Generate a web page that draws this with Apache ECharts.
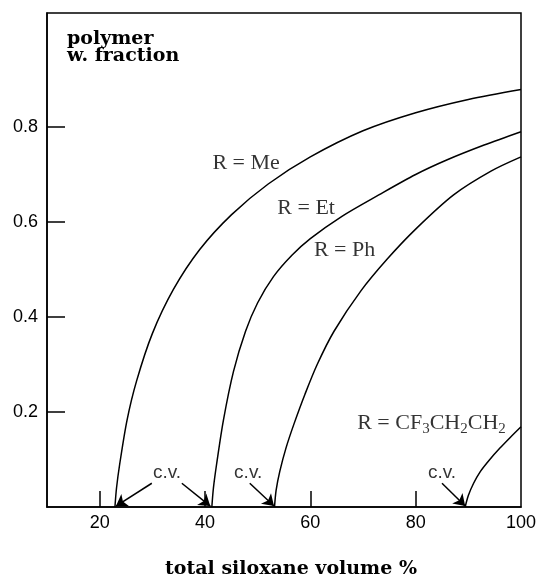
<!DOCTYPE html>
<html><head><meta charset="utf-8">
<script src="https://cdn.jsdelivr.net/npm/echarts@6/dist/echarts.min.js"></script>
<style>html,body{margin:0;padding:0;background:#fff}#c{width:542px;height:582px}</style>
</head><body><div id="c"></div>
<script>
// Curve data: total siloxane volume % (x) vs polymer weight fraction (y)
const meX = [22.9, 23.2, 23.8, 25.2, 27.0, 30.0, 34.0, 39.0, 45.0, 52.0, 60.0, 70.0, 80.0, 90.0, 100];
const meY = [0, 0.04, 0.09, 0.183, 0.265, 0.365, 0.458, 0.542, 0.615, 0.68, 0.737, 0.792, 0.830, 0.858, 0.879];
const etX = [41.3, 41.6, 42.2, 43.5, 45.4, 47.7, 50.0, 53.0, 56.5, 60.0, 66.0, 73.0, 80.0, 86.0, 93.0, 100];
const etY = [0, 0.04, 0.09, 0.183, 0.285, 0.37, 0.43, 0.485, 0.53, 0.565, 0.612, 0.657, 0.70, 0.731, 0.762, 0.79];
const phX = [53.2, 53.5, 54.2, 55.4, 56.9, 59.0, 61.3, 64.5, 69.6, 74.6, 80.0, 87.2, 94.3, 100];
const phY = [0, 0.035, 0.075, 0.125, 0.175, 0.238, 0.300, 0.370, 0.455, 0.522, 0.585, 0.657, 0.707, 0.737];
const cfX = [89.4, 90.0, 91.0, 92.3, 94.0, 96.0, 98.0, 100];
const cfY = [0, 0.024, 0.05, 0.075, 0.099, 0.124, 0.147, 0.169];

const xTickValues = [20, 40, 60, 80];
const xLabelValues = [20, 40, 60, 80, 100];
const yTickValues = [0.2, 0.4, 0.6, 0.8];

// Annotations (data coordinates)
const curveLabelText = ['R = Me', 'R = Et', 'R = Ph', '{m|R = CF}{s|3}{m|CH}{s|2}{m|CH}{s|2}'];
const curveLabelX = [47.8, 59.2, 66.5, 83.0];
const curveLabelY = [0.724, 0.629, 0.541, 0.177];
const cvX = [32.8, 48.2, 85.0];
const cvY = [0.072, 0.072, 0.072];
const arrowFrom = [[29.9, 0.05], [35.6, 0.05], [48.5, 0.05], [85.0, 0.05]];
const arrowTo = [[23.1, 0.002], [41.0, 0.002], [53.1, 0.002], [89.4, 0.002]];

const zip = (xs, ys) => xs.map((x, i) => [x, ys[i]]);
const curveStyle = {color: '#000', width: 1.5};
function curve(name, xs, ys) {
  return {name, type: 'line', data: zip(xs, ys), smooth: 0.3,
    symbol: 'none', lineStyle: curveStyle, silent: true, z: 3};
}

const chart = echarts.init(document.getElementById('c'), null, {renderer: 'canvas'});
chart.setOption({
  animation: false,
  backgroundColor: '#fff',
  grid: {left: 47, right: 21, top: 13, bottom: 75, show: true, borderColor: '#000', borderWidth: 1.5,
    containLabel: false, outerBoundsMode: 'none'},
  xAxis: {
    type: 'value', min: 10, max: 100,
    name: 'total siloxane volume %', nameLocation: 'middle', nameGap: 53,
    nameTextStyle: {fontFamily: 'DejaVu Serif', fontWeight: 'bold', fontSize: 19, color: '#000', padding: [0, 0, 0, 14]},
    axisLine: {show: true, lineStyle: {color: '#000', width: 1.5}},
    axisTick: {show: true, inside: true, length: 16, customValues: xTickValues, lineStyle: {color: '#000', width: 1.5}},
    axisLabel: {customValues: xLabelValues, margin: 7, fontFamily: 'Liberation Sans', fontSize: 18, color: '#000'},
    splitLine: {show: false}
  },
  yAxis: {
    type: 'value', min: 0, max: 1.04,
    axisLine: {show: true, lineStyle: {color: '#000', width: 1.5}},
    axisTick: {show: true, inside: true, length: 18, customValues: yTickValues, lineStyle: {color: '#000', width: 1.5}},
    axisLabel: {customValues: yTickValues, margin: 9, fontFamily: 'Liberation Sans', fontSize: 18, color: '#000'},
    splitLine: {show: false}
  },
  graphic: [{
    type: 'text', left: 67, top: 30,
    style: {text: 'polymer\nw. fraction', font: 'bold 19px "DejaVu Serif"', lineHeight: 17, fill: '#000'}
  }],
  series: [
    curve('Me', meX, meY),
    curve('Et', etX, etY),
    curve('Ph', phX, phY),
    curve('CF3CH2CH2', cfX, cfY),
    {
      name: 'curveLabels', type: 'scatter', symbolSize: 0, silent: true,
      data: curveLabelX.map((x, i) => ({value: [x, curveLabelY[i]], label: {formatter: curveLabelText[i]}})),
      label: {show: true, position: 'inside', color: '#000', fontFamily: 'Liberation Serif', fontSize: 22,
        rich: {
          m: {fontFamily: 'Liberation Serif', fontSize: 22, lineHeight: 28, color: '#000', verticalAlign: 'middle'},
          s: {fontFamily: 'Liberation Serif', fontSize: 15, lineHeight: 15, color: '#000', verticalAlign: 'bottom'}
        }}
    },
    {
      name: 'cv', type: 'scatter', symbolSize: 0, silent: true,
      data: zip(cvX, cvY),
      label: {show: true, position: 'inside', formatter: 'c.v.', color: '#000', fontFamily: 'Liberation Sans', fontSize: 19},
      markLine: {
        silent: true, symbol: ['none', 'arrow'], symbolSize: 11, animation: false,
        lineStyle: {color: '#000', width: 1.5, type: 'solid'},
        label: {show: false},
        data: arrowFrom.map((f, i) => [{coord: f}, {coord: arrowTo[i]}])
      }
    }
  ]
});
</script></body></html>
